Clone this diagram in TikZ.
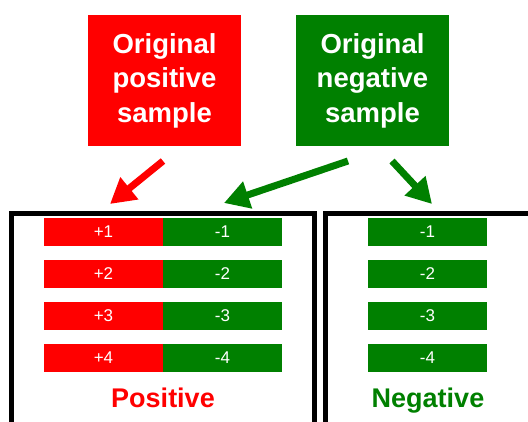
\documentclass[tikz,border=0pt]{standalone}
\usepackage{fontspec}
\setmainfont{Liberation Sans}
\usetikzlibrary{positioning}
\usetikzlibrary{arrows.meta}
\definecolor{posred}{RGB}{255,0,0}
\definecolor{neggreen}{RGB}{0,128,0}

\begin{document}
\begin{tikzpicture}[x=1pt, y=-1pt,
    samplebox/.style={text=white, font=\bfseries\fontsize{27.5}{34.5}\selectfont, align=center, minimum width=153pt, minimum height=131pt, inner sep=0pt, outer sep=0pt},
    pbar/.style={fill=posred, text=white, font=\fontsize{17}{18}\selectfont, minimum width=119pt, minimum height=28pt, inner sep=0pt, outer sep=0pt},
    nbar/.style={pbar, fill=neggreen},
    flowarrow/.style={line width=7pt, -{Triangle[length=25pt, width=27pt]}},
    framebox/.style={draw=black, line width=5pt},
    setlabel/.style={anchor=base, font=\bfseries\fontsize{27}{30}\selectfont}]
    \useasboundingbox (0,0) rectangle (528,421);
    \clip (0,0) rectangle (528,421);

    % the two sets
    \draw[framebox] (11.5,213.5) rectangle (314.5,460);
    \draw[framebox] (325,213.5) rectangle (560,460);

    \node[samplebox, fill=posred] (origpos) at (164.5,80.5) {Original\\positive\\sample};
    \node[samplebox, fill=neggreen] (orighneg) at (372.5,80.5) {Original\\negative\\sample};

    % positive set
    \node[pbar] (p1) at (103.5,232) {+1};
    \node[pbar, below=14pt of p1] (p2) {+2};
    \node[pbar, below=14pt of p2] (p3) {+3};
    \node[pbar, below=14pt of p3] (p4) {+4};
    \node[nbar, right=0pt of p1] (m1) {-1};
    \node[nbar, right=0pt of p2] (m2) {-2};
    \node[nbar, right=0pt of p3] (m3) {-3};
    \node[nbar, right=0pt of p4] (m4) {-4};

    % negative set
    \node[nbar] (n1) at (427.5,232) {-1};
    \node[nbar, below=14pt of n1] (n2) {-2};
    \node[nbar, below=14pt of n2] (n3) {-3};
    \node[nbar, below=14pt of n3] (n4) {-4};

    \node[setlabel, text=posred] (poslabel) at (163,407) {Positive};
    \node[setlabel, text=neggreen] (neglabel) at (428,407) {Negative};

    \coordinate (redtail) at (163,161);
    \coordinate (redtip) at (110,204);
    \coordinate (greentail) at (348,161);
    \coordinate (greentip) at (224,203);
    \coordinate (negtail) at (392,161);
    \coordinate (negtip) at (432,204);

    \draw[flowarrow, posred] (redtail) -- (redtip);
    \draw[flowarrow, neggreen] (greentail) -- (greentip);
    \draw[flowarrow, neggreen] (negtail) -- (negtip);
\end{tikzpicture}
\end{document}
